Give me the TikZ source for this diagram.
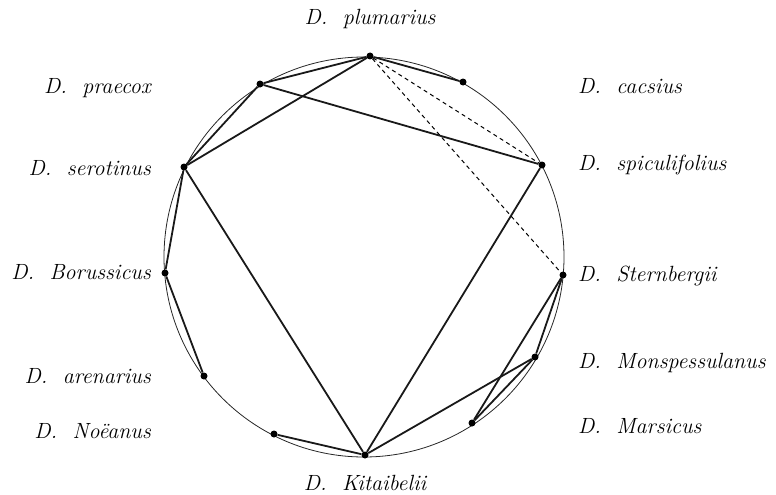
\documentclass[tikz,border=0pt]{standalone}
\begin{document}
\begin{tikzpicture}[x=1pt,y=-1pt,
  dot/.style={circle,fill=black,inner sep=0pt,minimum size=7pt},
  edge/.style={line width=1.8pt,black!90},
  dashedge/.style={line width=1pt,dash pattern=on 4pt off 3.5pt},
  lab/.style={font=\fontsize{22}{26}\selectfont\itshape,inner sep=0pt}]
\useasboundingbox (0,0) rectangle (776,495);
\draw[line width=0.8pt,black!85] (364,257) circle[radius=200];
% points
\node[dot] (plu) at (370,56) {};
\node[dot] (cae) at (463,82) {};
\node[dot] (spi) at (542,165) {};
\node[dot] (ste) at (563,275) {};
\node[dot] (mon) at (535,357) {};
\node[dot] (mar) at (472,423) {};
\node[dot] (kit) at (365,455) {};
\node[dot] (noe) at (274,434) {};
\node[dot] (are) at (204,376) {};
\node[dot] (bor) at (165,273) {};
\node[dot] (ser) at (184,167) {};
\node[dot] (pra) at (260,84) {};
% solid connectors
\draw[edge] (plu) -- (cae);
\draw[edge] (plu) -- (pra);
\draw[edge] (plu) -- (ser);
\draw[edge] (pra) -- (spi);
\draw[edge] (pra) -- (ser);
\draw[edge] (ser) -- (bor);
\draw[edge] (ser) -- (kit);
\draw[edge] (spi) -- (kit);
\draw[edge] (bor) -- (are);
\draw[edge] (noe) -- (kit);
\draw[edge] (kit) -- (mon);
\draw[edge] (ste) -- (mar);
\draw[edge] (ste) -- (mon);
\draw[edge] (mar) -- (mon);
% dashed connectors
\draw[dashedge] (plu) -- (spi);
\draw[dashedge] (plu) -- (ste);
% labels
\node[lab,anchor=base] (lplu) at (370,25) {D.\ \ plumarius};
\node[lab,anchor=base] (lkit) at (365,490) {D.\ \ Kitaibelii};
\node[lab,anchor=base east] (lpra) at (151,93) {D.\ \ praecox};
\node[lab,anchor=base east] (lser) at (151,175) {D.\ \ serotinus};
\node[lab,anchor=base east] (lbor) at (151,279) {D.\ \ Borussicus};
\node[lab,anchor=base east] (lare) at (151,383) {D.\ \ arenarius};
\node[lab,anchor=base east] (lnoe) at (151,438) {D.\ \ No\"eanus};
\node[lab,anchor=base west] (lcae) at (578,93) {D.\ \ cacsius};
\node[lab,anchor=base west] (lspi) at (578,170) {D.\ \ spiculifolius};
\node[lab,anchor=base west] (lste) at (578,281) {D.\ \ Sternbergii};
\node[lab,anchor=base west] (lmon) at (578,368) {D.\ \ Monspessulanus};
\node[lab,anchor=base west] (lmar) at (578,433) {D.\ \ Marsicus};
\end{tikzpicture}
\end{document}
